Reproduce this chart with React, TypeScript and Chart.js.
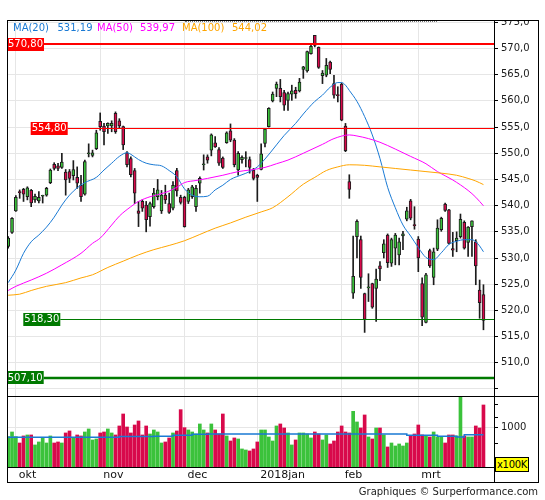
import React, { useEffect, useRef } from 'react';
import { Chart, registerables } from 'chart.js';

Chart.register(...registerables);

// ---- data ----
const opens = [532.2,534.9,539.0,542.6,543.1,541.7,542.9,541.1,540.9,541.8,542.0,544.4,547.9,547.6,547.3,546.4,546.5,545.7,545.4,543.9,542.2,549.9,549.6,550.9,556.1,555.2,555.2,555.2,557.6,556.2,555.1,550.1,549.0,546.7,539.0,540.8,540.1,537.9,539.8,541.7,539.0,542.0,540.4,539.5,546.7,541.6,541.6,540.8,541.7,539.8,544.3,547.8,549.3,550.6,552.0,550.7,549.1,552.0,554.3,552.5,546.8,548.8,549.0,548.8,546.8,545.8,546.9,551.9,555.1,560.0,562.4,562.4,561.6,560.1,561.3,562.0,561.9,566.0,565.7,569.0,572.5,570.2,564.8,564.9,567.4,563.3,561.1,563.2,555.2,544.6,523.3,534.1,533.5,523.2,524.3,525.1,524.2,528.5,531.0,534.4,529.0,531.9,530.6,534.2,537.4,540.9,536.3,533.6,525.1,517.7,531.4,526.3,531.7,535.4,540.3,539.2,531.8,533.3,534.1,536.8,533.0,536.0,533.1,523.9,523.0];
const highs = [534.1,537.7,541.9,543.0,543.3,543.6,543.1,542.2,542.7,542.0,543.5,547.0,548.2,548.1,550.0,546.9,546.9,548.6,547.4,545.8,548.7,551.8,550.6,554.4,557.7,555.7,555.8,556.2,557.9,556.6,555.2,550.3,549.3,547.1,540.8,541.1,540.8,540.7,543.3,545.0,542.9,543.9,542.4,544.6,547.1,542.0,541.8,543.3,543.9,543.9,545.5,549.7,549.7,553.7,553.2,551.1,549.3,554.1,555.6,552.8,550.3,549.5,550.3,549.3,547.1,546.0,551.8,554.7,558.7,561.7,563.6,564.1,562.0,561.7,563.0,562.6,564.3,566.6,569.5,570.6,572.5,570.3,565.8,568.1,567.6,564.9,562.7,563.4,555.7,545.9,534.2,537.3,534.2,523.3,527.0,525.2,527.9,529.3,533.5,534.6,533.8,534.7,533.8,535.1,539.7,541.2,539.8,534.1,526.2,527.1,531.7,531.9,537.3,537.8,540.5,539.3,534.9,535.0,538.4,537.1,536.0,537.1,533.5,525.8,524.9];
const lows = [531.9,534.7,538.9,541.4,540.8,541.1,539.8,540.6,540.5,540.5,541.8,544.2,546.8,546.7,547.1,542.0,544.4,544.9,543.3,540.8,542.0,549.3,549.3,550.7,554.4,551.6,553.8,554.1,553.8,554.7,550.7,547.4,545.5,540.4,536.0,538.9,535.0,536.1,539.5,541.1,538.5,540.4,538.5,539.2,541.8,540.3,535.9,540.4,541.4,538.9,542.4,546.8,548.1,549.5,551.1,547.7,547.1,551.9,552.2,547.4,545.8,548.1,547.4,546.2,544.9,540.8,546.8,551.2,555.0,559.8,560.8,559.8,558.2,558.2,560.1,560.5,561.7,564.3,565.5,568.9,570.3,566.2,563.3,564.6,565.2,560.5,559.8,556.2,550.3,541.4,522.3,530.0,524.2,515.8,521.7,520.4,517.9,525.7,530.0,528.2,528.4,528.7,528.7,531.6,537.1,537.3,535.5,527.4,517.1,517.6,528.2,524.9,531.4,535.1,538.9,532.7,530.3,531.2,533.8,531.7,530.3,530.3,524.9,518.5,516.3];
const closes = [533.8,537.6,541.6,542.5,542.2,543.4,540.5,541.8,541.6,541.9,543.3,546.8,547.1,547.1,548.3,544.9,545.2,546.9,544.3,541.7,548.4,550.0,550.1,553.9,555.1,554.1,555.7,555.7,554.1,555.2,551.6,547.8,545.9,542.4,538.5,539.5,537.3,540.4,542.4,543.0,542.0,541.1,538.7,543.9,542.8,540.6,536.0,543.0,543.6,543.3,545.2,547.9,548.7,553.5,551.2,548.1,547.3,553.9,552.5,547.8,550.0,549.2,549.1,547.3,545.2,545.4,549.9,554.6,558.6,561.3,563.2,560.8,559.2,561.4,561.9,561.4,563.6,566.5,569.4,570.4,570.6,566.4,565.3,566.8,566.0,561.1,561.0,556.3,550.5,543.1,526.5,537.0,526.3,518.3,524.4,520.6,526.0,527.9,532.7,529.1,533.5,534.4,533.1,534.6,539.0,537.6,536.2,530.0,518.7,526.8,528.5,531.2,535.7,537.6,539.1,532.8,531.5,533.8,537.4,531.9,535.9,537.1,528.5,521.5,518.1];
// volume in x100K
const volumes = [773,891,773,611,790,815,815,561,637,756,611,790,611,637,611,866,917,756,815,790,891,968,688,713,866,891,968,866,815,1044,1349,1018,866,1069,1171,815,1044,840,942,891,611,637,739,866,917,1459,1001,942,891,840,1095,942,866,1095,942,840,1349,790,662,739,713,459,433,408,459,637,942,942,764,662,1044,1095,993,866,561,688,866,866,840,739,891,840,688,815,586,662,891,1044,891,866,1417,1146,993,1324,764,713,993,993,815,510,611,535,586,535,611,790,840,1069,815,790,764,891,764,764,611,815,815,790,1816,790,764,764,1044,993,1578];

// moving averages: [candle index, value]
const ma20 = [[0,525.3],[2,527.7],[4,530.9],[6,533.1],[8,534.4],[10,535.9],[12,537.8],[14,540.1],[16,542.0],[18,543.4],[20,544.4],[23,545.4],[25,546.8],[27,548.1],[29,549.4],[31,550.1],[32,549.8],[34,548.8],[36,548.1],[38,547.8],[40,547.6],[42,546.7],[44,545.5],[46,543.2],[48,542.0],[50,541.7],[52,541.8],[54,543.0],[56,543.9],[58,545.0],[61,545.9],[63,546.5],[65,547.4],[67,548.9],[70,551.6],[72,553.4],[75,555.7],[77,557.5],[80,559.9],[82,561.1],[84,562.6],[86,563.5],[87,563.5],[88,563.0],[89,562.0],[91,559.9],[93,557.0],[95,553.5],[97,549.0],[99,543.5],[101,539.6],[103,536.3],[105,534.2],[107,532.0],[109,530.1],[111,529.7],[113,531.0],[115,532.6],[117,533.2],[119,533.5],[121,533.5],[122,533.1],[123,532.3],[124,531.19]];
const ma50 = [[0,523.8],[2,524.6],[6,525.8],[10,527.1],[14,528.7],[19,530.9],[22,532.8],[24,533.8],[27,536.3],[29,538.0],[32,539.8],[34,540.8],[37,541.7],[41,542.5],[44,543.5],[46,544.4],[49,544.8],[52,545.2],[56,545.8],[60,546.5],[63,546.8],[67,547.3],[70,548.0],[73,548.7],[77,550.0],[82,551.7],[85,552.8],[89,553.5],[91,553.3],[94,552.8],[97,552.1],[101,550.8],[105,549.4],[109,548.0],[112,546.5],[116,544.9],[120,542.9],[122,541.6],[124,539.97]];
const ma100 = [[0,522.9],[3,523.1],[6,523.8],[10,524.6],[15,525.3],[19,526.2],[22,526.8],[26,528.2],[30,529.4],[34,530.6],[38,531.6],[42,532.4],[46,533.3],[50,534.5],[54,535.7],[58,536.7],[62,537.8],[66,538.8],[69,539.6],[73,541.7],[77,544.1],[80,545.4],[83,546.7],[86,547.4],[89,547.8],[93,547.7],[97,547.4],[101,547.1],[105,546.8],[109,546.5],[113,546.2],[117,545.8],[120,545.2],[122,544.7],[124,544.02]];
const volMA = [[0,756],[29,773],[38,781],[43,806],[48,832],[52,840],[103,840],[104,806],[112,781],[117,764],[119,823],[124,823]];

const monthTicks = [2, 24, 46, 65, 87, 107];
const monthLabels = ['okt', 'nov', 'dec', '2018jan', 'feb', 'mrt'];
const priceLabelTicks = [510,515,520,525,530,535,540,545,550,555,560,565,570,575];
const priceMinorTicks = [505,507.5,512.5,517.5,522.5,527.5,532.5,537.5,542.5,547.5,552.5,557.5,562.5,567.5,572.5];
const volLabelTicks = [1000];
const volMinorTicks = [610, 1250, 1600];
const levels = [570.8, 554.8, 518.3, 507.1];

// ---- styles ----
const FONT = "'DejaVu Sans', sans-serif";
const GREEN = '#3bc23b';
const RED = '#d8094b';
const WICK = '#1c1c1c';
const BLUE = '#1a7ad4';
const MAGENTA = '#ff00ff';
const ORANGE = '#ffa500';
const GRID = '#e6e6e6';
const levelStyle = [
  { color: '#ff0000', width: 2, boxX: 7 },
  { color: '#ff0000', width: 1, boxX: 30.7 },
  { color: '#007a00', width: 1, boxX: 23.3 },
  { color: '#007a00', width: 2.5, boxX: 6.7 },
];
const X_MIN = -0.05;
const X_MAX = 126.75;

const fmt = (v: number, d: number) => v.toFixed(d).replace('.', ',');
const idx = opens.map((_, i) => i);
const up = idx.map(i => closes[i] >= opens[i]);
const colors = up.map(u => (u ? GREEN : RED));

function xScale(showLabels: boolean): any {
  return {
    type: 'linear',
    min: X_MIN,
    max: X_MAX,
    offset: false,
    afterBuildTicks: (s: any) => { s.ticks = monthTicks.map(v => ({ value: v })); },
    afterFit: (s: any) => { s.height = showLabels ? 15 : 0; s.paddingLeft = 0; s.paddingRight = 0; },
    grid: { color: GRID, lineWidth: 1, offset: false, drawTicks: false },
    border: { display: false },
    ticks: {
      display: showLabels,
      autoSkip: false,
      maxRotation: 0,
      minRotation: 0,
      align: 'start',
      labelOffset: 3,
      padding: 2,
      color: '#111',
      font: { family: FONT, size: 11 },
      callback: (v: number) => { const k = monthTicks.indexOf(v); return k >= 0 ? monthLabels[k] : ''; },
    },
  };
}

const levelPlugin = {
  id: 'levels',
  afterDatasetsDraw(chart: any) {
    const { ctx, chartArea, scales } = chart;
    ctx.save();
    levels.forEach((v, i) => {
      const st = levelStyle[i];
      const raw = scales.y.getPixelForValue(v);
      const py = st.width % 2 === 1 ? Math.round(raw) + 0.5 : Math.round(raw);
      const bx = st.boxX - 8;
      const bw = 37;
      const bh = 13;
      ctx.strokeStyle = st.color;
      ctx.lineWidth = st.width;
      ctx.beginPath();
      ctx.moveTo(bx + bw, py);
      ctx.lineTo(chartArea.right, py);
      ctx.stroke();
      ctx.fillStyle = st.color;
      ctx.fillRect(bx, Math.round(raw - bh / 2), bw, bh);
      ctx.fillStyle = '#ffffff';
      ctx.font = `10px ${FONT}`;
      ctx.textAlign = 'center';
      ctx.textBaseline = 'middle';
      ctx.fillText(fmt(v, 2), bx + bw / 2, Math.round(raw) + 0.5);
    });
    ctx.restore();
  },
};

export default function App() {
  const mainRef = useRef<HTMLCanvasElement>(null);
  const volRef = useRef<HTMLCanvasElement>(null);

  useEffect(() => {
    Chart.defaults.font.family = FONT;
    const lineDs = (pts: number[][], color: string, extra: any = {}) => ({
      type: 'line',
      data: pts.map(([x, y]) => ({ x, y })),
      borderColor: color,
      borderWidth: 1,
      pointRadius: 0,
      fill: false,
      cubicInterpolationMode: 'monotone',
      order: 0,
      ...extra,
    });

    const main = new Chart(mainRef.current as HTMLCanvasElement, {
      type: 'bar',
      data: {
        datasets: [
          lineDs(ma100, ORANGE),
          lineDs(ma50, MAGENTA),
          lineDs(ma20, BLUE),
          {
            type: 'bar',
            data: idx.map(i => ({ x: i, y: [opens[i], closes[i]] })),
            backgroundColor: colors,
            borderColor: WICK,
            borderWidth: 1,
            borderSkipped: false,
            barThickness: 3,
            minBarLength: 1,
            grouped: false,
            clip: { left: 3, top: 0, right: 0, bottom: 0 },
            order: 2,
          },
          {
            type: 'bar',
            data: idx.map(i => ({ x: i, y: [lows[i], highs[i]] })),
            backgroundColor: WICK,
            barThickness: 1,
            grouped: false,
            clip: { left: 3, top: 0, right: 0, bottom: 0 },
            order: 3,
          },
        ] as any,
      },
      options: {
        animation: false,
        responsive: false,
        events: [],
        layout: { padding: 0 },
        plugins: { legend: { display: false }, tooltip: { enabled: false } },
        scales: {
          x: xScale(false),
          y: {
            type: 'linear',
            position: 'right',
            min: 503.66,
            max: 575.25,
            afterBuildTicks: (s: any) => {
              s.ticks = [...priceMinorTicks, ...priceLabelTicks].sort((a, b) => a - b).map(v => ({ value: v }));
            },
            afterFit: (s: any) => { s.width = 44; s.paddingTop = 0; s.paddingBottom = 0; },
            grid: {
              color: (c: any) => (c.tick && c.tick.value % 5 === 0 ? GRID : 'rgba(0,0,0,0)'),
              tickColor: '#000',
              tickLength: 4,
              drawTicks: true,
            },
            border: { display: false },
            ticks: {
              padding: 3,
              color: '#1a1a1a',
              font: { family: FONT, size: 10 },
              callback: (v: number) => (priceLabelTicks.includes(v) ? fmt(v, 1) : ''),
            },
          },
        },
      } as any,
      plugins: [levelPlugin],
    });

    const vol = new Chart(volRef.current as HTMLCanvasElement, {
      type: 'bar',
      data: {
        datasets: [
          lineDs(volMA, BLUE, { stepped: 'before', borderWidth: 1.5, cubicInterpolationMode: 'default' }),
          {
            type: 'bar',
            data: idx.map(i => ({ x: i, y: volumes[i] })),
            backgroundColor: colors,
            borderWidth: 0,
            barThickness: 3,
            grouped: false,
            order: 2,
          },
        ] as any,
      },
      options: {
        animation: false,
        responsive: false,
        events: [],
        layout: { padding: 0 },
        plugins: { legend: { display: false }, tooltip: { enabled: false } },
        scales: {
          x: xScale(true),
          y: {
            type: 'linear',
            position: 'right',
            min: 0,
            max: 1781,
            afterBuildTicks: (s: any) => {
              s.ticks = [...volMinorTicks, ...volLabelTicks].sort((a, b) => a - b).map(v => ({ value: v }));
            },
            afterFit: (s: any) => { s.width = 44; s.paddingTop = 0; s.paddingBottom = 0; },
            grid: {
              color: (c: any) => (c.tick && volLabelTicks.includes(c.tick.value) ? GRID : 'rgba(0,0,0,0)'),
              tickColor: '#000',
              tickLength: 4,
              drawTicks: true,
            },
            border: { display: false },
            ticks: {
              padding: 3,
              color: '#1a1a1a',
              font: { family: FONT, size: 10 },
              callback: (v: number) => (volLabelTicks.includes(v) ? String(v) : ''),
            },
          },
        },
      } as any,
    });

    return () => { main.destroy(); vol.destroy(); };
  }, []);

  const abs = (s: any): any => ({ position: 'absolute', ...s });
  const last = (a: number[][]) => fmt(a[a.length - 1][1], 2);
  const legendItems = [
    { text: 'MA(20)', x: 13, color: BLUE },
    { text: last(ma20), x: 57.5, color: BLUE },
    { text: 'MA(50)', x: 97, color: MAGENTA },
    { text: last(ma50), x: 140, color: MAGENTA },
    { text: 'MA(100)', x: 182, color: ORANGE },
    { text: last(ma100), x: 232, color: ORANGE },
  ];

  return (
    <div style={abs({ left: 0, top: 0, width: 545, height: 500, background: '#fff', fontFamily: FONT, overflow: 'hidden' })}>
      <canvas ref={mainRef} width={530} height={375} style={abs({ left: 8, top: 21, width: 530, height: 375 })} />
      <canvas ref={volRef} width={530} height={85} style={abs({ left: 8, top: 397, width: 530, height: 85 })} />
      {/* frame */}
      <div style={abs({ left: 7, top: 20, width: 532, height: 463, border: '1px solid #000', boxSizing: 'border-box' })} />
      <div style={abs({ left: 7, top: 396, width: 532, height: 1, background: '#000' })} />
      <div style={abs({ left: 7, top: 467, width: 488, height: 1, background: '#000' })} />
      <div style={abs({ left: 494, top: 20, width: 1, height: 463, background: '#000' })} />
      <div style={abs({ left: 185, top: 21, width: 252, height: 0, borderTop: '1px dotted #777' })} />
      {/* legend */}
      {legendItems.map((it, k) => (
        <div key={k} style={abs({ left: it.x, top: 21, fontSize: 10, lineHeight: '13px', color: it.color, whiteSpace: 'nowrap' })}>{it.text}</div>
      ))}
      {/* volume unit */}
      <div style={abs({ left: 495, top: 457, width: 34, height: 15, background: '#ffff00', border: '1px solid #000', boxSizing: 'border-box', fontSize: 10, lineHeight: '13px', textAlign: 'center', color: '#000', letterSpacing: '-0.3px' })}>x100K</div>
      {/* footer */}
      <div style={abs({ left: 300, top: 485, width: 238, textAlign: 'right', fontSize: 10, lineHeight: '13px', color: '#222', whiteSpace: 'nowrap' })}>Graphiques © Surperformance.com</div>
    </div>
  );
}
